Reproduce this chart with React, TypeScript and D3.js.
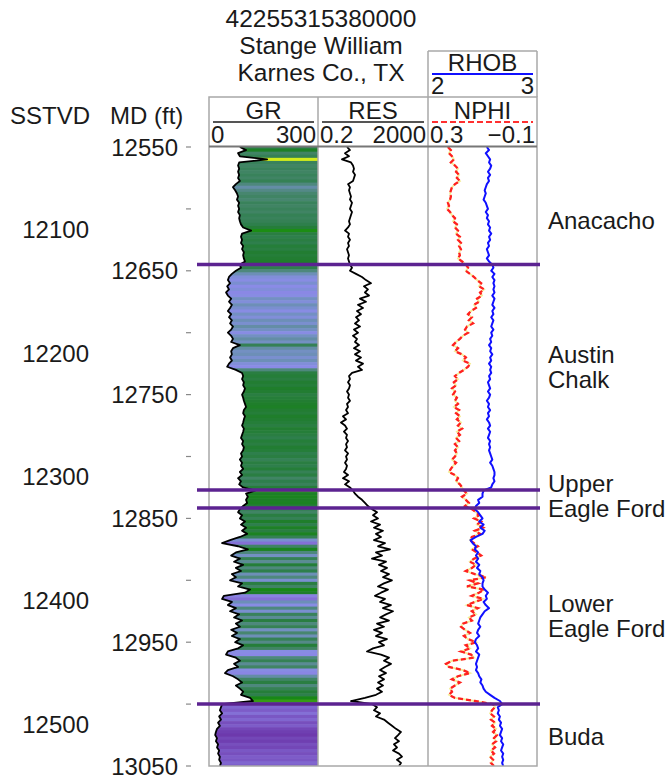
import React from 'react';
import * as d3 from 'd3';

// ---------- data ----------
const TOP_MD = 12550;
const STEP_FT = 2.5;
const MD_RANGE = [12550, 13050];

const TITLE_LINES = ['42255315380000', 'Stange William', 'Karnes Co., TX'];

const GR = [
  85,102,80,85,160,83,80,83,80,83,80,85,74,66,72,77,80,77,83,80,83,80,85,83,85,88,94,116,91,88,91,88,94,91,96,94,96,99,85,
  88,74,63,55,52,58,50,55,47,52,61,55,63,58,52,61,55,63,58,66,61,52,61,66,61,85,66,61,63,58,63,55,50,74,91,
  94,91,96,94,99,96,91,94,96,99,102,96,94,99,96,94,91,96,94,91,88,94,91,96,94,88,91,85,91,88,94,85,91,80,88,83,94,
  127,102,107,102,105,94,
  85,80,91,85,99,88,102,91,105,85,58,36,80,107,74,61,85,69,94,74,88,63,74,58,91,80,113,99,41,36,63,52,74,58,83,69,91,74,85,61,77,63,85,72,94,80,52,47,74,85,69,80,52,44,66,80,91,74,85,94,88,113,121,36,
  33,30,36,28,33,25,30,22,19,17,22,19,25,22,28,25,30,28,33,30,
];

const RES = [
  2.27,2.91,1.92,2.68,1.49,3.17,3.75,4.07,3.75,4.43,4.07,3.75,2.47,2.91,2.68,2.91,3.17,2.91,3.45,3.17,2.91,3.45,3.17,2.91,2.68,2.91,2.47,1.92,2.68,2.47,2.91,2.47,2.68,2.27,2.47,2.68,2.47,2.68,2.91,
  3.45,2.91,4.82,7.96,11.1,16.9,9.41,13.1,10.2,14.3,6.73,11.1,5.69,8.65,5.24,7.32,4.82,6.19,4.43,6.73,4.07,5.69,3.75,5.24,4.43,6.19,4.07,6.73,4.43,7.32,4.82,8.65,5.69,7.96,3.45,2.68,2.91,2.47,2.91,2.68,2.27,2.68,2.47,2.91,2.27,2.47,2.09,2.47,1.62,2.09,1.37,1.92,2.27,1.76,2.27,2.09,2.47,2.09,2.27,1.92,2.47,2.09,2.27,1.92,2.27,2.09,1.76,2.47,1.62,2.68,1.92,2.91,
  3.75,4.43,5.69,7.96,10.2,13.1,
  18.4,28.0,20.0,30.4,16.9,36.0,21.7,46.1,25.7,39.0,21.7,54.5,30.4,82.9,25.7,42.4,18.4,59.3,33.0,64.5,39.0,76.2,46.1,98.0,50.2,30.4,70.1,39.0,23.6,54.5,36.0,90.1,46.1,107,59.3,36.0,76.2,28.0,50.2,21.7,42.4,25.7,64.5,33.0,50.2,20.0,12.1,39.0,76.2,50.2,90.1,54.5,36.0,59.3,33.0,50.2,30.4,46.1,28.0,42.4,25.7,10.2,3.17,18.4,
  28.0,21.7,36.0,25.7,50.2,70.1,98.0,137,208,163,126,176,116,149,107,176,226,149,208,176,
];

const NPHI = [
  .227,.216,.223,.212,.205,.216,.201,.190,.197,.186,.194,.183,.201,.212,.216,.219,.216,.219,.227,.223,.230,.219,.212,.201,.208,.194,.201,.190,.197,.183,.190,.179,.186,.179,.186,.183,.190,.175,.161,
  .153,.161,.146,.131,.120,.105,.113,.094,.109,.102,.120,.113,.131,.124,.142,.153,.139,.150,.135,.157,.164,.153,.172,.183,.197,.208,.190,.201,.175,.161,.172,.146,.153,.168,.186,.201,.190,.205,.197,.212,.201,.208,.194,.201,.190,.205,.186,.197,.183,.194,.179,.190,.175,.194,.183,.197,.186,.201,.190,.201,.194,.201,.212,.197,.208,.216,.223,.201,.190,.197,.183,.175,
  .168,.157,.175,.161,.150,.164,
  .139,.124,.113,.131,.105,.120,.098,.128,.109,.139,.146,.131,.117,.139,.120,.105,.131,.146,.124,.139,.161,.128,.087,.146,.117,.157,.094,.113,.139,.098,.128,.157,.117,.139,.124,.150,.139,.172,.179,.164,.146,.168,.153,.124,.161,.146,.179,.142,.131,.212,.234,.223,.172,.146,.190,.212,.183,.201,.219,.212,.223,.201,.128,.061,
  .054,.065,.072,.058,.069,.054,.065,.050,.061,.047,.058,.050,.065,.054,.069,.058,.072,.061,.069,.058,
];

const RHOB = [
  2.54,2.56,2.53,2.55,2.57,2.56,2.58,2.57,2.55,2.57,2.55,2.56,2.54,2.53,2.52,2.53,2.52,2.51,2.53,2.54,2.55,2.53,2.55,2.54,2.56,2.55,2.57,2.56,2.58,2.56,2.57,2.55,2.56,2.54,2.55,2.56,2.54,2.56,2.59,
  2.60,2.58,2.61,2.59,2.61,2.60,2.61,2.60,2.61,2.59,2.61,2.60,2.59,2.61,2.59,2.60,2.58,2.60,2.59,2.58,2.60,2.58,2.59,2.57,2.58,2.56,2.58,2.57,2.59,2.57,2.58,2.56,2.58,2.57,2.58,2.56,2.57,2.55,2.56,2.57,2.55,2.57,2.56,2.54,2.56,2.55,2.57,2.55,2.56,2.54,2.56,2.57,2.55,2.57,2.56,2.55,2.57,2.56,2.57,2.56,2.57,2.58,2.59,2.57,2.59,2.60,2.61,2.61,2.60,2.61,2.59,2.58,
  2.51,2.50,2.50,2.46,2.47,2.44,
  2.43,2.46,2.48,2.50,2.47,2.51,2.48,2.52,2.50,2.44,2.39,2.41,2.44,2.43,2.46,2.44,2.46,2.44,2.47,2.45,2.48,2.47,2.50,2.51,2.50,2.50,2.52,2.55,2.53,2.54,2.51,2.53,2.56,2.52,2.50,2.48,2.47,2.46,2.48,2.46,2.45,2.47,2.44,2.43,2.45,2.46,2.44,2.47,2.46,2.45,2.44,2.45,2.44,2.46,2.47,2.49,2.48,2.50,2.51,2.53,2.57,2.61,2.66,2.68,
  2.64,2.65,2.64,2.66,2.65,2.67,2.66,2.68,2.67,2.66,2.68,2.67,2.69,2.68,2.67,2.69,2.68,2.69,2.68,2.69,
];

const MD_TICKS = [12550, 12600, 12650, 12700, 12750, 12800, 12850, 12900, 12950, 13000, 13050];
const MD_LABELS = [12550, 12650, 12750, 12850, 12950, 13050];
const SSTVD_LABELS = [12100, 12200, 12300, 12400, 12500];
const MD_MINUS_SSTVD = 516.5;

const FORMATION_TOPS = [12645, 12827, 12841.5, 13000];
const FORMATION_NAMES = [['Anacacho'], ['Austin', 'Chalk'], ['Upper', 'Eagle Ford'], ['Lower', 'Eagle Ford'], ['Buda']];
const FORMATION_LABEL_MD = [12616, 12724.5, 12828.7, 12925.6, 13033];

const GR_STOPS = [15, 30, 42, 51, 60, 68, 78, 88, 98, 115, 135, 160];
const GR_COLORS = ['#6a34a8', '#7d5cc8', '#8a84e4', '#8a8ce6', '#7690c8', '#5e8c9a', '#44856a', '#2e7f4c', '#1f7d2c', '#178a14', '#7fc418', '#d2ec1c'];

// ---------- chart ----------
const FONT = "'Liberation Sans', Arial, Helvetica, sans-serif";
const TXT = '#1a1a1a';

export default function App() {
  const depths = GR.map((_, i) => TOP_MD + i * STEP_FT);

  const yTop = 147, yBot = 766;
  const y = d3.scaleLinear().domain(MD_RANGE).range([yTop, yBot]);
  const xGR = d3.scaleLinear().domain([0, 300]).range([209, 318]);
  const xRES = d3.scaleLog().domain([0.2, 2000]).range([318, 428]);
  const xN = d3.scaleLinear().domain([0.3, -0.1]).range([428, 537]);
  const xRH = d3.scaleLinear().domain([2, 3]).range([428, 537]);
  const grColor = d3.scaleLinear<string>().domain(GR_STOPS).range(GR_COLORS).interpolate(d3.interpolateRgb).clamp(true);

  const L = 209, R1 = 318, R2 = 428, R3 = 537;
  const hdrTop = 97, rhobTop = 51, hdrBot = 146.5;

  const idx = d3.range(depths.length);
  const lineOf = (vals: number[], xs: any) =>
    d3.line<number>().x(i => xs(vals[i])).y(i => y(depths[i])).curve(d3.curveLinear)(idx) || '';

  const grMask = d3.area<number>()
    .y(i => y(depths[i]))
    .x0(L)
    .x1(i => xGR(GR[i]))(idx) || '';

  const borderCol = '#a8a8a8';
  const tracks = [
    { x0: L, x1: R1, title: 'GR', lo: '0', hi: '300', line: '#555', dash: undefined as any },
    { x0: R1, x1: R2, title: 'RES', lo: '0.2', hi: '2000', line: '#555', dash: undefined as any },
    { x0: R2, x1: R3, title: 'NPHI', lo: '0.3', hi: '\u22120.1', line: '#ff3030', dash: '6,3' },
  ];

  return (
    <svg width={670} height={780} style={{ position: 'absolute', left: 0, top: 0, display: 'block', background: '#fff' }}
      fontFamily={FONT}>
      <defs>
        <clipPath id="clipGR"><rect x={L} y={yTop} width={R1 - L} height={yBot - yTop} /></clipPath>
        <clipPath id="clipAll"><rect x={L} y={yTop} width={R3 - L} height={yBot - yTop} /></clipPath>
      </defs>

      {/* titles */}
      {TITLE_LINES.map((t, i) => (
        <text key={t} x={321} y={27 + i * 27} fontSize={24.5} textAnchor="middle" fill={TXT}>{t}</text>
      ))}

      <text x={10} y={124} fontSize={24} fill={TXT}>SSTVD</text>
      <text x={110} y={124} fontSize={24} fill={TXT}>MD (ft)</text>

      {/* GR fill */}
      <g clipPath="url(#clipGR)">
        {idx.map(i => {
          const a = y(depths[i] - STEP_FT / 2), b = y(depths[i] + STEP_FT / 2);
          return <rect key={i} x={L} y={a} width={R1 - L} height={b - a + 0.6} fill={grColor(GR[i])} />;
        })}
        <path d={grMask} fill="#fff" />
      </g>

      {/* curves */}
      <g clipPath="url(#clipAll)">
        <path d={lineOf(GR, xGR)} fill="none" stroke="#000" strokeWidth={1.8} strokeLinejoin="round" />
        <path d={lineOf(RES, xRES)} fill="none" stroke="#000" strokeWidth={1.8} strokeLinejoin="round" />
        <path d={lineOf(NPHI, xN)} fill="none" stroke="#f4ec96" strokeWidth={1.8} />
        <path d={lineOf(NPHI, xN)} fill="none" stroke="#ff2020" strokeWidth={2.3} strokeDasharray="5,3" />
        <path d={lineOf(RHOB, xRH)} fill="none" stroke="#1010ff" strokeWidth={2} strokeLinejoin="round" />
      </g>

      {/* track borders */}
      <g stroke={borderCol} strokeWidth={1.5} fill="none">
        <rect x={L} y={hdrTop} width={R3 - L} height={yBot - hdrTop} />
        <line x1={R1} x2={R1} y1={hdrTop} y2={yBot} />
        <line x1={R2} x2={R2} y1={rhobTop} y2={yBot} />
        <line x1={R3} x2={R3} y1={rhobTop} y2={hdrTop} />
        <line x1={R2} x2={R3} y1={rhobTop} y2={rhobTop} />
      </g>
      <line x1={L} x2={R3} y1={hdrBot} y2={hdrBot} stroke="#777" strokeWidth={2} />

      {/* headers */}
      {tracks.map(t => (
        <g key={t.title}>
          <text x={(t.x0 + t.x1) / 2} y={119} fontSize={24} textAnchor="middle" fill={TXT}>{t.title}</text>
          <line x1={t.x0 + 4} x2={t.x1 - 4} y1={122} y2={122} stroke={t.line} strokeWidth={2} strokeDasharray={t.dash} />
          <text x={t.x0 + 2} y={143} fontSize={24} fill={TXT}>{t.lo}</text>
          <text x={t.x1 - 2} y={143} fontSize={24} textAnchor="end" fill={TXT}>{t.hi}</text>
        </g>
      ))}
      <text x={(R2 + R3) / 2} y={71} fontSize={24} textAnchor="middle" fill={TXT}>RHOB</text>
      <line x1={R2 + 4} x2={R3 - 4} y1={74} y2={74} stroke="#1010ff" strokeWidth={2} />
      <text x={R2 + 3} y={94} fontSize={24} fill={TXT}>2</text>
      <text x={R3 - 3} y={94} fontSize={24} textAnchor="end" fill={TXT}>3</text>

      {/* depth axis */}
      {MD_TICKS.map(d => (
        <line key={d} x1={186} x2={191} y1={y(d)} y2={y(d)} stroke="#888" strokeWidth={1.2} />
      ))}
      {MD_LABELS.map(d => (
        <text key={d} x={178} y={y(d) + 8.5} fontSize={24} textAnchor="end" fill={TXT}>{d}</text>
      ))}
      {SSTVD_LABELS.map(d => (
        <text key={d} x={89} y={y(d + MD_MINUS_SSTVD) + 8.5} fontSize={24} textAnchor="end" fill={TXT}>{d}</text>
      ))}

      {/* formation tops */}
      {FORMATION_TOPS.map(d => (
        <line key={d} x1={197} x2={540} y1={y(d)} y2={y(d)} stroke="#5c2391" strokeWidth={3.5} />
      ))}
      {FORMATION_NAMES.map((lines, k) => (
        <text key={k} x={548} y={y(FORMATION_LABEL_MD[k])} fontSize={24} fill={TXT}>
          {lines.map((ln, j) => (
            <tspan key={j} x={548} dy={j === 0 ? 0 : 25}>{ln}</tspan>
          ))}
        </text>
      ))}
    </svg>
  );
}
